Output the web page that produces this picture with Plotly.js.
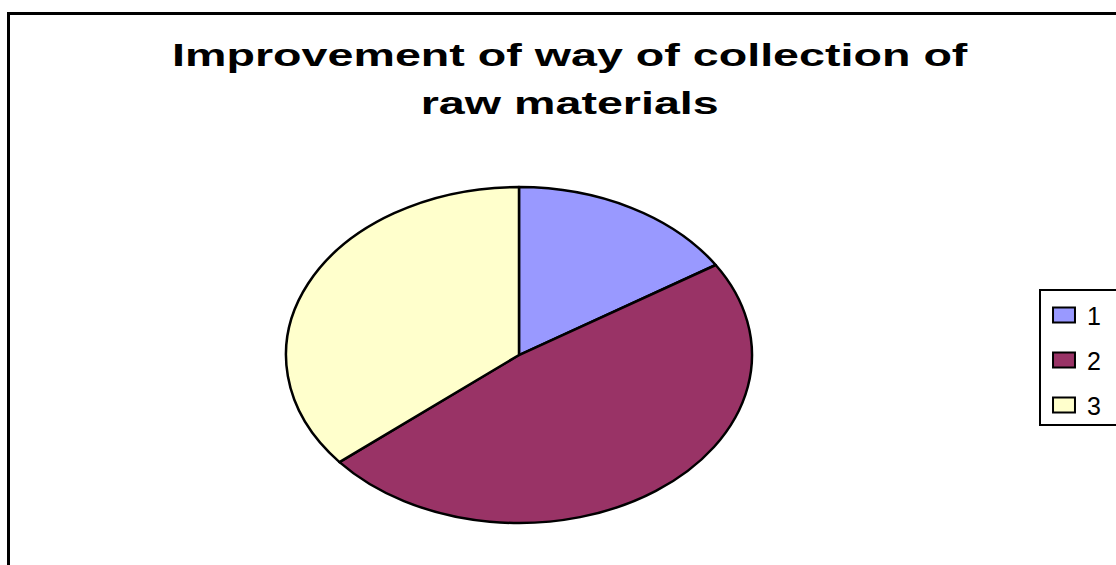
<!DOCTYPE html>
<html><head><meta charset="utf-8">
<script src="https://cdn.plot.ly/plotly-3.0.1.min.js"></script>
<style>html,body{margin:0;padding:0;background:#fff}#chart{width:1116px;height:565px}</style>
</head><body><div id="chart"></div>
<script>
const labels = ['1', '2', '3'];
const values = [16, 48, 36];
const colors = ['#9999FF', '#993366', '#FFFFCC'];
const titleText = 'Improvement of way of collection of<br>raw materials';

const trace = {
  type: 'pie', labels: labels, values: values, sort: false, direction: 'clockwise', rotation: 0,
  textinfo: 'none', hoverinfo: 'label+value+percent',
  marker: {colors: colors, line: {color: '#000000', width: 2.5}},
  domain: {x: [0.3145, 0.6156], y: [0.0743, 0.669]}
};
const layout = {
  width: 1116, height: 565, margin: {l: 0, r: 0, t: 0, b: 0},
  paper_bgcolor: '#ffffff', plot_bgcolor: '#ffffff',
  font: {family: 'Liberation Sans, Arial, sans-serif', color: '#000000'},
  title: {text: titleText, x: 0.511, xanchor: 'center', y: 0.86, yanchor: 'bottom',
    font: {size: 32, family: 'Liberation Sans, Arial, sans-serif', weight: 'bold', color: '#000'}},
  showlegend: true,
  legend: {x: 1039/1116, xanchor: 'left', y: 1 - 289/565, yanchor: 'top', bordercolor: '#000', borderwidth: 2,
    font: {size: 25, color: '#000'}, bgcolor: '#fff'},
  shapes: [{type: 'rect', xref: 'paper', yref: 'paper', x0: 8.5/1116, x1: 1.02, y0: -0.02, y1: 1 - 13.5/565,
    line: {color: '#000', width: 3}, fillcolor: 'rgba(0,0,0,0)'}]
};
Plotly.newPlot('chart', [trace], layout, {displayModeBar: false, staticPlot: true}).then(gd => {
  // flatten the pie into the ellipse of the reference
  const cd = gd.calcdata[0][0];
  const cx = cd.cx, cy = cd.cy;
  const sx = 233 / cd.r, sy = 168 / cd.r;
  const g = document.querySelector('.pielayer g.trace');
  if (g) {
    g.setAttribute('transform', `translate(${cx},${cy}) scale(${sx},${sy}) translate(${-cx},${-cy})`);
    g.querySelectorAll('path').forEach(p => p.setAttribute('vector-effect', 'non-scaling-stroke'));
  }
  // title: wider letters and larger line gap
  const gt = document.querySelector('.g-gtitle');
  const tt = gt && gt.querySelector('text');
  if (tt) {
    const lines = tt.querySelectorAll('tspan.line');
    if (lines.length > 1) lines[1].setAttribute('dy', '1.5em');
    const r = tt.getBoundingClientRect();
    const s = 796 / r.width;
    const tcx = r.left + r.width / 2;
    gt.setAttribute('transform', `translate(570,${66 - 0.905 * 32}) scale(${s},1) translate(${-tcx},${-r.top})`);
  }
  // legend: spacing and symbol size
  const lg = document.querySelector('.legend');
  if (lg) { lg.removeAttribute('clip-path'); lg.setAttribute('transform', 'translate(1039,289)'); }
  const items = document.querySelectorAll('.legend .traces');
  items.forEach((it, i) => {
    it.setAttribute('transform', `translate(5,${26 + 45 * i})`);
    const sym = it.querySelector('.legendpoints path');
    if (sym) {
      sym.setAttribute('transform', 'translate(20,0) scale(1.83,1.25)');
      sym.setAttribute('vector-effect', 'non-scaling-stroke');
      sym.style.strokeWidth = '2px';
    }
    const txt = it.querySelector('text.legendtext');
    if (txt) txt.setAttribute('x', '43');
  });
  const bg = document.querySelector('.legend rect.bg');
  if (bg) { bg.setAttribute('x', '1'); bg.setAttribute('y', '1'); bg.setAttribute('height', '135'); bg.setAttribute('width', '120'); }
  const sb = document.querySelector('.legend .scrollbox');
  if (sb) { sb.removeAttribute('clip-path'); sb.setAttribute('transform', 'translate(0,0)'); }
});
</script></body></html>
